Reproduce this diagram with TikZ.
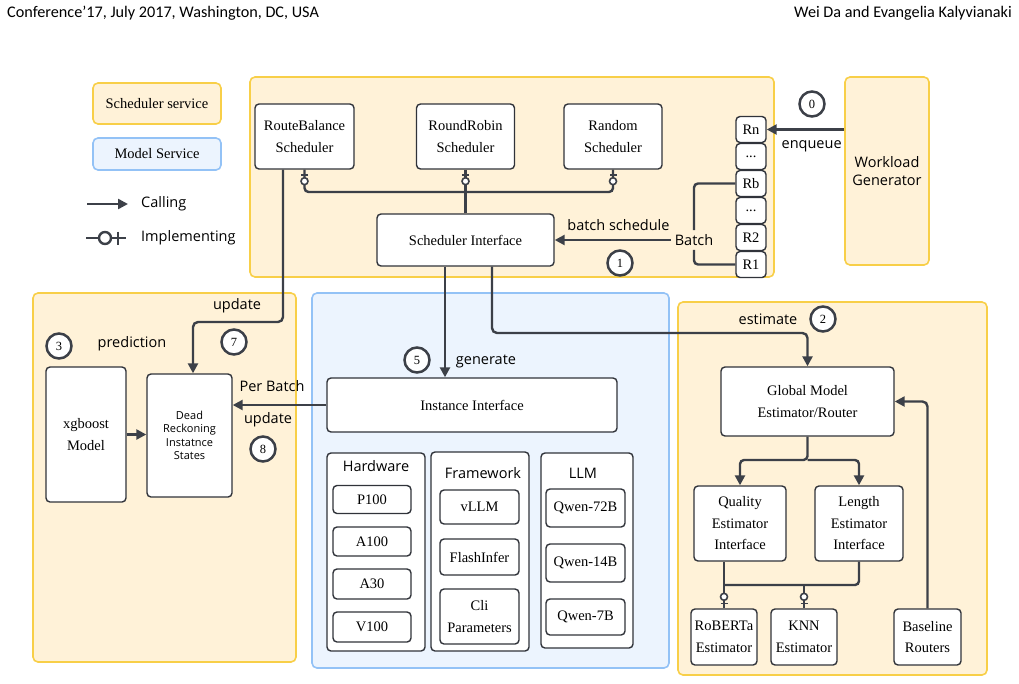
\documentclass[tikz,border=0pt]{standalone}
\usepackage{fontspec}
\setmainfont{Liberation Serif}
\newfontfamily\labelfont{Open Sans}
\newfontfamily\headfont{Carlito}
\usetikzlibrary{arrows.meta,positioning,calc,decorations.markings}
\definecolor{schedfill}{HTML}{FFF2D8}
\definecolor{schedline}{HTML}{F8CF48}
\definecolor{modelfill}{HTML}{ECF4FE}
\definecolor{modelline}{HTML}{93C2F6}
\definecolor{wire}{HTML}{3C4048}
\newcommand\qdots{...}

\begin{document}
\begin{tikzpicture}[x=1pt, y=-1pt,
    sz/.style 2 args={minimum width=#1pt, minimum height=#2pt},
    box/.style={draw=wire!80!black, line width=1.4pt, rounded corners=4pt, fill=white, align=center, inner sep=1pt, font=\fontsize{14.5}{21.5}\selectfont},
    qbox/.style={box, sz={30}{26}},
    area/.style={rounded corners=5pt, line width=1.6pt},
    sched/.style={area, draw=schedline, fill=schedfill},
    model/.style={area, draw=modelline, fill=modelfill},
    num/.style={circle, draw=wire, line width=2.5pt, fill=white, minimum size=25pt, inner sep=0pt, font=\fontsize{12.5}{12.5}\selectfont},
    lbl/.style={font=\labelfont\fontsize{14.5}{17}\selectfont, inner sep=1pt},
    ttl/.style={font=\labelfont\fontsize{14.5}{17}\selectfont, inner sep=0pt},
    head/.style={font=\headfont\fontsize{16.2}{16.2}\selectfont, inner sep=0pt},
    conn/.style={draw=wire, line width=2.4pt},
    call/.style={conn, -{Triangle[length=10pt,width=10pt]}},
    impl/.style={conn, postaction={decorate, decoration={markings, mark=at position -5pt with {
        \draw[wire, line width=1.6pt] (0pt,-3.5pt) -- (0pt,3.5pt);
        \draw[wire, line width=1.6pt, fill=white] (-6.5pt,0pt) circle (3.5pt);}}}}
]
\useasboundingbox (0,0) rectangle (1019,683);
\node[head, anchor=west] (hdl) at (7,13) {Conference’17, July 2017, Washington, DC, USA};
\node[head, anchor=east] (hdr) at (1012,13) {Wei Da and Evangelia Kalyvianaki};

% service areas
\draw[sched] (250,77) rectangle (774,277);
\draw[sched] (33,293) rectangle (296,662);
\draw[model] (312,293) rectangle (669,668);
\draw[sched] (678,302) rectangle (987,675);

% legend
\node[box, sched, sz={128}{41}] (legS) at (157,103.5) {Scheduler service};
\node[box, model, sz={128}{32}] (legM) at (157,154) {Model Service};
\node[lbl, anchor=west] (lgCall) at (140,204) {Calling};
\node[lbl, anchor=west] (lgImpl) at (140,238) {Implementing};
\coordinate (lgc) at (87,204);
\coordinate (lgi) at (86,238);
\draw[call] (lgc) -- ([xshift=-12pt]lgCall.west);
\draw[conn] (lgi) -- ([xshift=-14pt]lgImpl.west);
\node[circle, draw=wire, line width=2.4pt, fill=white, minimum size=12pt, inner sep=0pt] (lgo) at (105,238) {};
\draw[conn] (118,231.5) -- (118,244.5);

% scheduler service
\node[box, sz={99}{65}] (rb) at (304.5,136.5) {RouteBalance\\Scheduler};
\node[box, sz={98}{65}] (rr) at (465.5,136.5) {RoundRobin\\Scheduler};
\node[box, sz={98}{65}] (rnd) at (613,136.5) {Random\\Scheduler};
\node[box, sz={177}{52}] (si) at (465.5,240) {Scheduler Interface};
\coordinate (bus) at (465.5,192);
\draw[impl] (si.north) -- (rr.south);
\draw[impl, rounded corners=4pt] (bus) -| (rb.south);
\draw[impl, rounded corners=4pt] (bus) -| (rnd.south);

\foreach \nm/\txt [count=\i from 0] in {qRn/Rn, qDa/\qdots, qRb/Rb, qDb/\qdots, qR2/R2, qR1/R1}
  \node[qbox] (\nm) at (751,129.5+27*\i) {\txt};

\node[box, sched, sz={84}{188}, font=\labelfont\fontsize{14.5}{18.5}\selectfont] (wg) at (887,171) {Workload\\Generator};
\draw[call] (wg.west |- qRn.east) -- node[lbl, pos=0.42, below=9pt] (enq) {enqueue} (qRn.east);
\node[num] (c0) at (812,104) {0};

\node[lbl, inner sep=4pt] (batch) at (694,240) {Batch};
\draw[conn, rounded corners=4pt] (qRb.west) -| (batch.north);
\draw[conn, rounded corners=4pt] (batch.south) |- (qR1.west);
\draw[call] (batch.west) -- node[lbl, pos=0.45, above=7pt] (bsch) {batch schedule} (si.east |- batch.west);
\node[num] (c1) at (620,263) {1};

% dead reckoning
\node[box, sz={80}{135}] (xgb) at (86,434.5) {xgboost\\Model};
\node[box, sz={85}{123}, font=\labelfont\fontsize{11}{13.3}\selectfont] (dr) at (189.5,435.5) {Dead\\Reckoning\\Instatnce\\States};
\node[num] (c3) at (59,346) {3};
\node[lbl] (pred) at (132,344) {prediction};
\node[lbl] (upd7) at (237,306) {update};
\node[num] (c7) at (234,342) {7};
\node[lbl] (perb) at (272,386) {Per Batch};
\node[lbl] (upd8) at (268,420) {update};
\node[num] (c8) at (263,449) {8};
\coordinate (updbend) at (193,322);
\draw[call, rounded corners=5pt] ([xshift=-21.5pt]rb.south) |- (updbend) -- ([xshift=3.5pt]dr.north);
\draw[call] (xgb.east) -- (xgb.east -| dr.west);

% model service
\node[box, sz={290}{54}] (ii) at (472,405) {Instance Interface};
\draw[call] (ii.west) -- (ii.west -| dr.east);
\draw[call] ([xshift=-20.5pt]si.south) -- ([xshift=-20.5pt]si.south |- ii.north);
\node[lbl] (gen) at (486,361) {generate};
\node[num] (c5) at (417,360) {5};

\node[box, sz={98}{198}] (hw) at (376,552) {};
\node[box, sz={98}{199}] (fw) at (480,551.5) {};
\node[box, sz={92}{195}] (llm) at (587,550.5) {};
\node[ttl] (hwT) at (376,466) {Hardware};
\node[ttl] (fwT) at (483,473) {Framework};
\node[ttl] (llmT) at (583,473) {LLM};
\node[box, sz={78}{28}] (p100) at (372,499.5) {P100};
\node[box, sz={78}{29}] (a100) at (372,541.5) {A100};
\node[box, sz={78}{30}] (a30) at (372,584) {A30};
\node[box, sz={78}{30}] (v100) at (372,627) {V100};
\node[box, sz={79}{34}] (vllm) at (479.5,507) {vLLM};
\node[box, sz={79}{36}] (flash) at (479.5,557) {FlashInfer};
\node[box, sz={79}{55}] (cli) at (479.5,616.5) {Cli\\Parameters};
\node[box, sz={79}{38}] (q72) at (585.5,508) {Qwen-72B};
\node[box, sz={79}{38}] (q14) at (585.5,563) {Qwen-14B};
\node[box, sz={79}{36}] (q7) at (585.5,617) {Qwen-7B};

% estimator
\node[box, sz={173}{69}] (gm) at (807.5,401.5) {Global Model\\Estimator/Router};
\node[box, sz={92}{75}] (qe) at (740,523.5) {Quality\\Estimator\\Interface};
\node[box, sz={88}{75}] (le) at (859,523.5) {Length\\Estimator\\Interface};
\node[box, sz={66}{56}] (rob) at (724,637) {RoBERTa\\Estimator};
\node[box, sz={66}{56}] (knn) at (804,637) {KNN\\Estimator};
\node[box, sz={67}{56}] (br) at (927.5,637) {Baseline\\Routers};
\coordinate (estbend) at (807.5,333);
\coordinate (split) at (807.5,460);
\coordinate (estbus) at (724,585);
\draw[call, rounded corners=5pt] ([xshift=26.5pt]si.south) |- (estbend) -- (gm.north);
\node[lbl] (est) at (768,319) {estimate};
\node[num] (c2) at (823,319) {2};
\draw[call, rounded corners=4pt] (gm.south) -- (split) -| (qe.north);
\draw[call, rounded corners=4pt] (split) -| (le.north);
\draw[call, rounded corners=5pt] (br.north) |- (gm.east);
\draw[impl] (rob.north |- qe.south) -- (rob.north);
\draw[conn, rounded corners=4pt] (le.south) |- (estbus);
\draw[impl] (knn.north |- estbus) -- (knn.north);
\end{tikzpicture}
\end{document}
